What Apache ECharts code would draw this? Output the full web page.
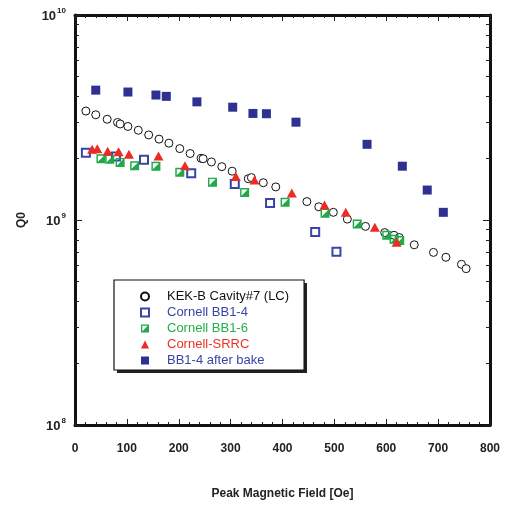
<!DOCTYPE html>
<html>
<head>
<meta charset="utf-8">
<script src="https://cdn.jsdelivr.net/npm/echarts@6/dist/echarts.min.js"></script>
<style>
  html, body { margin: 0; padding: 0; background: #fff; }
  #chart { width: 511px; height: 505px; }
</style>
</head>
<body>
<div id="chart"></div>
<script>
// Q0 versus peak magnetic field for several cavities
const kekField = [21, 40, 62, 82, 87, 102, 122, 142, 162, 181, 202, 222, 243, 247, 263, 283, 303, 334, 340, 363, 387, 447, 470, 498, 525, 560, 597, 615, 625, 654, 691, 715, 745, 754];
const kekQ0 = [3.40e9, 3.26e9, 3.10e9, 2.99e9, 2.94e9, 2.86e9, 2.74e9, 2.60e9, 2.48e9, 2.37e9, 2.23e9, 2.11e9, 2.00e9, 1.99e9, 1.92e9, 1.82e9, 1.73e9, 1.59e9, 1.61e9, 1.52e9, 1.45e9, 1.23e9, 1.16e9, 1.09e9, 1.01e9, 0.931e9, 0.868e9, 0.842e9, 0.821e9, 0.757e9, 0.695e9, 0.658e9, 0.608e9, 0.579e9];

const bb14Field = [21, 79, 133, 224, 308, 376, 463, 504];
const bb14Q0 = [2.13e9, 2.04e9, 1.97e9, 1.69e9, 1.50e9, 1.21e9, 0.873e9, 0.70e9];

const bb16Field = [50, 67, 87, 115, 156, 202, 265, 327, 405, 482, 544, 601, 615, 626];
const bb16Q0 = [1.99e9, 1.98e9, 1.91e9, 1.84e9, 1.83e9, 1.71e9, 1.53e9, 1.36e9, 1.22e9, 1.08e9, 0.955e9, 0.842e9, 0.805e9, 0.794e9];

const srrcField = [33, 43, 63, 84, 104, 161, 212, 310, 346, 418, 481, 522, 578, 620];
const srrcQ0 = [2.19e9, 2.20e9, 2.14e9, 2.13e9, 2.07e9, 2.03e9, 1.82e9, 1.61e9, 1.55e9, 1.34e9, 1.17e9, 1.08e9, 0.912e9, 0.770e9];

const bakeField = [40, 102, 156, 176, 235, 304, 343, 369, 426, 563, 631, 679, 710];
const bakeQ0 = [4.30e9, 4.21e9, 4.07e9, 4.01e9, 3.77e9, 3.55e9, 3.31e9, 3.30e9, 3.0e9, 2.34e9, 1.83e9, 1.40e9, 1.09e9];

const seriesNames = ['KEK-B Cavity#7 (LC)', 'Cornell BB1-4', 'Cornell BB1-6', 'Cornell-SRRC', 'BB1-4 after bake'];
const xTickValues = [0, 100, 200, 300, 400, 500, 600, 700, 800];
const yDecades = [1e8, 1e9, 1e10];

// log minor ticks (2..9 within each decade)
const yMinorValues = [];
for (let d = 1e8; d < 1e10; d *= 10) {
  for (let k = 2; k <= 9; k++) yMinorValues.push(k * d);
}

const pairs = (xs, ys) => xs.map((x, i) => [x, ys[i]]);

const FONT = 'Liberation Sans, Arial, Helvetica, sans-serif';
const BLUE = '#2e3192';
const GREEN = '#21a84a';
const RED = '#ee2a24';

const halfSquare = 'path://M0,0H10V10H0Z M1.6,1.6V8.4H8.4V1.6Z M8.4,1.6V8.4H1.6Z';

const frameLine = { show: true, lineStyle: { color: '#111', width: 3 } };

// legend box placement and its drop shadow
const LEGEND_LEFT = 114, LEGEND_TOP = 280, LEGEND_W = 190, LEGEND_H = 90;

const chart = echarts.init(document.getElementById('chart'), null, { renderer: 'canvas' });

chart.setOption({
  backgroundColor: '#fff',
  animation: false,
  textStyle: { fontFamily: FONT },
  grid: { left: 75, right: 21, top: 15, bottom: 75, containLabel: false },
  graphic: [
    {
      type: 'rect', left: LEGEND_LEFT + 3, top: LEGEND_TOP + 3, z: 1,
      shape: { width: LEGEND_W, height: LEGEND_H },
      style: { fill: '#222' }
    }
  ],
  legend: {
    orient: 'vertical',
    left: LEGEND_LEFT,
    top: LEGEND_TOP,
    padding: [9, 15, 2, 26],
    itemGap: 1,
    itemWidth: 8,
    itemHeight: 8,
    z: 10,
    backgroundColor: '#fff',
    borderColor: '#111',
    borderWidth: 1.2,
    borderRadius: 0,
    textStyle: { fontSize: 13, fontFamily: FONT, lineHeight: 15, padding: [0, 0, 0, 13] },
    data: [
      { name: seriesNames[0], textStyle: { color: '#111' } },
      { name: seriesNames[1], textStyle: { color: '#3a44a6' } },
      { name: seriesNames[2], textStyle: { color: '#22b04b' } },
      { name: seriesNames[3], textStyle: { color: '#ee3324' } },
      { name: seriesNames[4], textStyle: { color: '#3a44a6' } }
    ]
  },
  xAxis: [
    {
      type: 'value', position: 'bottom', min: 0, max: 800, interval: 100,
      name: 'Peak Magnetic Field [Oe]', nameLocation: 'middle', nameGap: 63,
      nameTextStyle: { fontSize: 12, fontWeight: 'bold', color: '#222', fontFamily: FONT },
      axisLine: frameLine,
      axisTick: { show: true, inside: true, length: 6, lineStyle: { color: '#222', width: 1 } },
      minorTick: { show: true, splitNumber: 5, length: 3, lineStyle: { color: '#222', width: 1 } },
      axisLabel: {
        margin: 18, fontSize: 12, fontWeight: 'bold', color: '#222', fontFamily: FONT,
        customValues: xTickValues
      },
      splitLine: { show: false }
    },
    {
      type: 'value', position: 'top', min: 0, max: 800, interval: 100,
      axisLine: frameLine,
      axisTick: { show: true, inside: true, length: 6, lineStyle: { color: '#222', width: 1 } },
      minorTick: { show: true, splitNumber: 5, length: 3, lineStyle: { color: '#222', width: 1 } },
      axisLabel: { show: false },
      splitLine: { show: false }
    }
  ],
  yAxis: [
    {
      type: 'log', logBase: 10, min: 1e8, max: 1e10, position: 'left',
      name: 'Q0', nameLocation: 'middle', nameGap: 47, nameRotate: 90,
      nameTextStyle: { fontSize: 12, fontWeight: 'bold', color: '#222', fontFamily: FONT },
      axisLine: frameLine,
      axisTick: { show: true, inside: true, length: 7, lineStyle: { color: '#222', width: 1 }, customValues: yDecades },
      axisLabel: {
        margin: 9,
        customValues: yDecades,
        formatter: v => '{b|10}{s|' + Math.round(Math.log10(v)) + '}',
        rich: {
          b: { fontSize: 13, fontWeight: 'bold', color: '#222', fontFamily: FONT, lineHeight: 16, verticalAlign: 'bottom', padding: [4, 0, 0, 0] },
          s: { fontSize: 8, fontWeight: 'bold', color: '#222', fontFamily: FONT, lineHeight: 16, verticalAlign: 'top', padding: [0, 0, 0, 1] }
        }
      },
      splitLine: { show: false }
    },
    {
      type: 'log', logBase: 10, min: 1e8, max: 1e10, position: 'left',
      axisLine: { show: false },
      axisTick: { show: true, inside: true, length: 4, lineStyle: { color: '#222', width: 1 }, customValues: yMinorValues },
      axisLabel: { show: false },
      splitLine: { show: false }
    },
    {
      type: 'log', logBase: 10, min: 1e8, max: 1e10, position: 'right',
      axisLine: frameLine,
      axisTick: { show: true, inside: true, length: 7, lineStyle: { color: '#222', width: 1 }, customValues: yDecades },
      axisLabel: { show: false },
      splitLine: { show: false }
    },
    {
      type: 'log', logBase: 10, min: 1e8, max: 1e10, position: 'right',
      axisLine: { show: false },
      axisTick: { show: true, inside: true, length: 4, lineStyle: { color: '#222', width: 1 }, customValues: yMinorValues },
      axisLabel: { show: false },
      splitLine: { show: false }
    }
  ],
  series: [
    {
      name: seriesNames[1], type: 'scatter', data: pairs(bb14Field, bb14Q0),
      symbol: 'rect', symbolSize: 8, z: 2,
      itemStyle: { color: '#fff', borderColor: '#3a44a6', borderWidth: 2, opacity: 1 }
    },
    {
      name: seriesNames[0], type: 'scatter', data: pairs(kekField, kekQ0),
      symbol: 'circle', symbolSize: 8, z: 3,
      itemStyle: { color: '#fff', borderColor: '#111', borderWidth: 1, opacity: 1 }
    },
    {
      name: seriesNames[2], type: 'scatter', data: pairs(bb16Field, bb16Q0),
      symbol: halfSquare, symbolSize: 9, z: 4,
      itemStyle: { color: GREEN, opacity: 1 }
    },
    {
      name: seriesNames[3], type: 'scatter', data: pairs(srrcField, srrcQ0),
      symbol: 'triangle', symbolSize: [10, 9], symbolOffset: [0, -1], z: 5,
      itemStyle: { color: RED, opacity: 1 }
    },
    {
      name: seriesNames[4], type: 'scatter', data: pairs(bakeField, bakeQ0),
      symbol: 'rect', symbolSize: 9, z: 6,
      itemStyle: { color: BLUE, opacity: 1 }
    }
  ]
});
</script>
</body>
</html>
